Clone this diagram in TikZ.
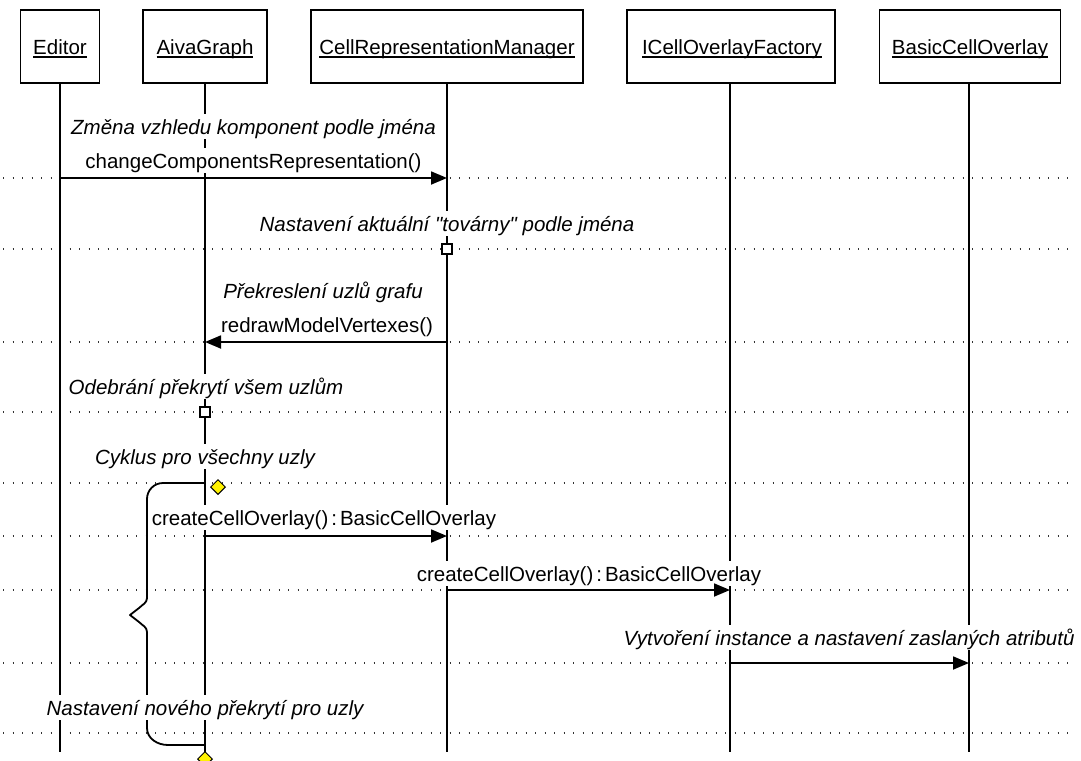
\documentclass[tikz,border=0pt]{standalone}
\usepackage{fontspec}
\setmainfont{Liberation Sans}[Ligatures=TeXOff]
\usetikzlibrary{arrows.meta,shapes.geometric}

% object name with an underline at a fixed depth below the baseline
\newsavebox\objnamebox
\newcommand\objname[1]{\sbox\objnamebox{#1}\rlap{\rule[-2.8pt]{\wd\objnamebox}{1.3pt}}\usebox\objnamebox}
% tight spacing around a return type colon
\newcommand\rtype{\hspace{3pt}:\hspace{3pt}}

\begin{document}
\begin{tikzpicture}[x=1pt,y=-1pt,
  every node/.style={font=\fontsize{20.5}{24}\selectfont},
  objbox/.style={draw, line width=1.8pt, minimum height=73pt, inner sep=0pt, fill=white},
  objtext/.style={anchor=base, inner sep=0pt},
  life/.style={line width=1.8pt},
  divider/.style={line width=1.4pt, black!80, dash pattern=on 1.4pt off 8.1pt},
  msg/.style={line width=1.8pt, -{Triangle[length=16pt,width=13pt]}},
  lbl/.style={anchor=base, fill=white, inner xsep=3pt, inner ysep=1pt, text height=19pt, text depth=4pt},
  note/.style={lbl, font=\fontsize{20.5}{24}\selectfont\itshape},
  selfbox/.style={draw, fill=white, line width=1.4pt, minimum size=10pt, inner sep=0pt},
  gate/.style={diamond, draw, fill=yellow, line width=1pt, minimum width=15pt, minimum height=15pt, inner sep=0pt},
  bracket/.style={line width=1.8pt, line join=round}
]
\useasboundingbox (0,0) rectangle (1081,760);
\fill[white] (0,0) rectangle (1081,760);

% horizontal dotted separators
\foreach \y in {178,249,342,412,483,536,590,663,733}
  \draw[divider] (3,\y) -- (1072,\y);

% object boxes
\node[objbox, minimum width=79pt]  (editor)  at (60,46.5)  {};
\node[objbox, minimum width=124pt] (aiva)    at (205,46.5) {};
\node[objbox, minimum width=272pt] (crm)     at (447,46.5) {};
\node[objbox, minimum width=208pt] (factory) at (731,46.5) {};
\node[objbox, minimum width=181pt] (overlay) at (970,46.5) {};

% lifeline ends
\coordinate (editor-end)  at (60,752);
\coordinate (aiva-end)    at (205,760);
\coordinate (crm-end)     at (447,752);
\coordinate (factory-end) at (730,752);
\coordinate (overlay-end) at (969,752);

% lifelines
\draw[life] (60,83)  -- (editor-end);
\draw[life] (205,83) -- (aiva-end);
\draw[life] (447,83) -- (crm-end);
\draw[life] (730,83) -- (factory-end);
\draw[life] (969,83) -- (overlay-end);

% loop bracket with brace
\draw[bracket] (205,483) -- (163,483) to[out=180,in=90] (147,499) -- (147,598)
  to[out=-90,in=45] (139,608) -- (130,615) -- (139,622) to[out=-45,in=90] (147,632)
  -- (147,728) to[out=-90,in=180] (168,745) -- (205,745);

% object names
\node[objtext] (editor-name)  at (60,55)  {\objname{Editor}};
\node[objtext] (aiva-name)    at (205,55) {\objname{AivaGraph}};
\node[objtext] (crm-name)     at (447,55) {\objname{CellRepresentationManager}};
\node[objtext] (factory-name) at (732,55) {\objname{ICellOverlayFactory}};
\node[objtext] (overlay-name) at (970,55) {\objname{BasicCellOverlay}};

% message labels
\node[note] (l1a) at (253.5,134) {Změna vzhledu komponent podle jména};
\node[lbl]  (l1b) at (253.5,168) {changeComponentsRepresentation()};
\node[note] (l2)  at (447,231)   {Nastavení aktuální "továrny" podle jména};
\node[note] (l3a) at (323,298)   {Překreslení uzlů grafu};
\node[lbl]  (l3b) at (327,332)   {redrawModelVertexes()};
\node[note] (l4)  at (206,394)   {Odebrání překrytí všem uzlům};
\node[note] (l5)  at (205,464)   {Cyklus pro všechny uzly};
\node[lbl]  (l6)  at (324,525)   {createCellOverlay()\rtype BasicCellOverlay};
\node[lbl]  (l7)  at (589,581)   {createCellOverlay()\rtype BasicCellOverlay};
\node[note] (l8)  at (849,645)   {Vytvoření instance a nastavení zaslaných atributů};
\node[note] (l9)  at (205,715)   {Nastavení nového překrytí pro uzly};

% message end points
\coordinate (m1s) at (60,178);  \coordinate (m1e) at (447,178);
\coordinate (m3s) at (447,342); \coordinate (m3e) at (205,342);
\coordinate (m6s) at (205,536); \coordinate (m6e) at (447,536);
\coordinate (m7s) at (447,590); \coordinate (m7e) at (730,590);
\coordinate (m8s) at (730,663); \coordinate (m8e) at (969,663);

% messages
\draw[msg] (m1s) -- (m1e);
\draw[msg] (m3s) -- (m3e);
\draw[msg] (m6s) -- (m6e);
\draw[msg] (m7s) -- (m7e);
\draw[msg] (m8s) -- (m8e);

% self calls
\node[selfbox] (self-crm)  at (447,249) {};
\node[selfbox] (self-aiva) at (205,412) {};

% loop gates
\node[gate] (loop-start) at (218,487) {};
\node[gate] (loop-end)   at (205,759) {};
\end{tikzpicture}
\end{document}
